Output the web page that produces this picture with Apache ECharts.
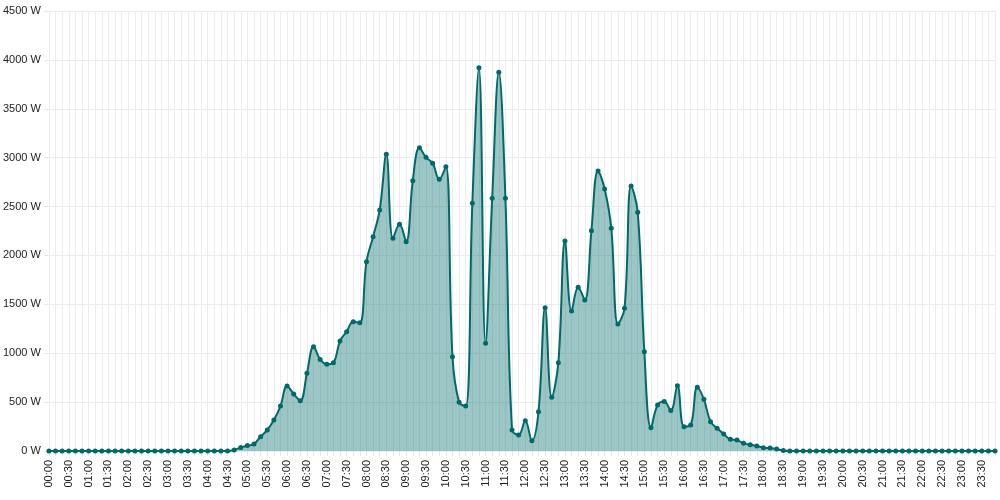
<!DOCTYPE html>
<html>
<head>
<meta charset="utf-8">
<script src="https://cdn.jsdelivr.net/npm/echarts@6/dist/echarts.min.js"></script>
<style>
html,body{margin:0;padding:0;background:#fff;}
#main{width:1000px;height:500px;}
</style>
</head>
<body>
<div id="main"></div>
<script>
// power readings every 10 minutes, in W
var times = [];
for (var h = 0; h < 24; h++) {
    for (var m = 0; m < 60; m += 10) {
        times.push((h < 10 ? '0' + h : '' + h) + ':' + (m < 10 ? '0' + m : '' + m));
    }
}

var nightBefore = [0,0,0,0,0,0,0,0,0,0, 0,0,0,0,0,0,0,0,0,0, 0,0,0,0,0,0,0,0];
var daytime = [
    10, 35, 55, 72, 147, 215, 317, 460, 665, 583,
    515, 795, 1067, 937, 886, 903, 1125, 1220, 1322, 1312,
    1936, 2192, 2465, 3034, 2175, 2318, 2141, 2765, 3102, 3003,
    2942, 2779, 2908, 965, 498, 460, 2533, 3920, 1101, 2584,
    3873, 2584, 215, 164, 310, 105, 402, 1466, 549, 903,
    2148, 1432, 1674, 1544, 2253, 2864, 2680, 2278, 1299, 1459,
    2710, 2441, 1016, 239, 470, 505, 413, 668, 249, 266,
    651, 528, 300, 232, 174, 120, 112, 78, 65, 51,
    34, 30, 20, 5
];
var nightAfter = [0,0,0,0,0,0,0,0,0,0, 0,0,0,0,0,0,0,0,0,0, 0,0,0,0,0,0,0,0,0,0, 0,0];
var power = nightBefore.concat(daytime, nightAfter);

var yTicks = [0, 500, 1000, 1500, 2000, 2500, 3000, 3500, 4000, 4500];

var myChart = echarts.init(document.getElementById('main'));

var option = {
    animation: false,
    grid: {
        left: 46,
        right: 5,
        top: 11,
        bottom: 49
    },
    xAxis: {
        type: 'category',
        boundaryGap: false,
        data: times,
        axisLine: {show: false},
        axisTick: {
            show: true,
            interval: 0,
            length: 5,
            lineStyle: {color: '#e6e6e6'}
        },
        splitLine: {
            show: true,
            interval: 0,
            lineStyle: {color: '#ededed'}
        },
        axisLabel: {
            interval: 2,
            rotate: 90,
            margin: 9,
            color: '#222',
            fontFamily: 'Liberation Sans, Arial, sans-serif',
            fontSize: 11
        }
    },
    yAxis: {
        type: 'value',
        min: yTicks[0],
        max: yTicks[yTicks.length - 1],
        interval: 500,
        axisLine: {show: false},
        axisTick: {
            show: true,
            length: 5,
            lineStyle: {color: '#e6e6e6'}
        },
        splitLine: {
            lineStyle: {color: '#ececec'}
        },
        axisLabel: {
            margin: 8,
            color: '#222',
            fontFamily: 'Liberation Sans, Arial, sans-serif',
            fontSize: 11,
            formatter: function (v) { return v + ' W'; }
        }
    },
    series: [
        {
            name: 'Power',
            type: 'line',
            data: power,
            smooth: 0.4,
            symbol: 'circle',
            symbolSize: 5,
            showAllSymbol: true,
            itemStyle: {color: '#006a6a'},
            lineStyle: {color: '#006a6a', width: 2},
            areaStyle: {color: 'rgba(0,106,106,0.39)', opacity: 1}
        }
    ]
};

myChart.setOption(option);
</script>
</body>
</html>
